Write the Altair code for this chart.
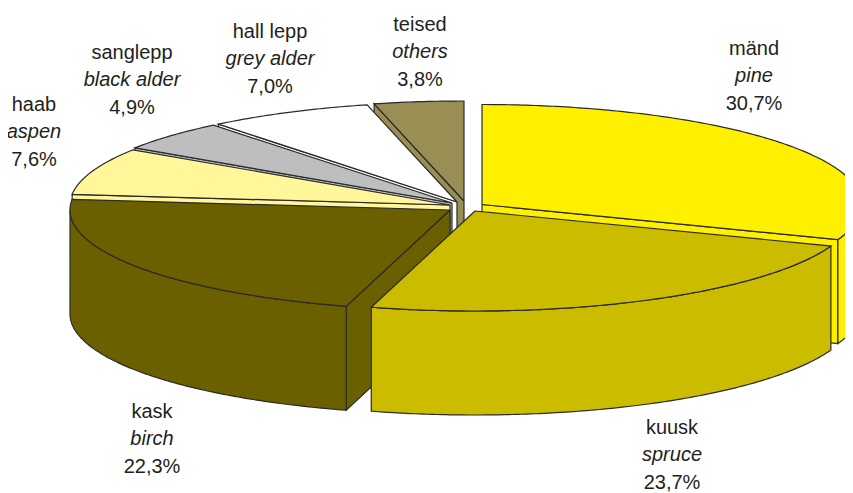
import math
import altair as alt
import pandas as pd

# ---- chart values
names_et = ["mänd", "kuusk", "kask", "haab", "sanglepp", "hall lepp", "teised"]
names_en = ["pine", "spruce", "birch", "aspen", "black alder", "grey alder", "others"]
shares = [30.7, 23.7, 22.3, 7.6, 4.9, 7.0, 3.8]
share_text = ["30,7%", "23,7%", "22,3%", "7,6%", "4,9%", "7,0%", "3,8%"]

# ---- styles and layout
colors = ["#FFF000", "#CCBC00", "#6B6000", "#FFF799", "#BCBEC0", "#FFFFFF", "#998F55"]
apex_x = [482, 475, 450, 450, 452, 457, 464]
apex_y = [204.5, 211, 210, 205, 203, 202, 201]
label_x = [754, 672, 152, 34, 132, 270, 420]
label_y = [49, 428, 412, 105, 53, 32, 25]
draw_order = [6, 5, 4, 3, 0, 2, 1]
RX, RY, DEPTH = 380, 100, 104
LINE_GAP = 27.3
INK = "#2b2a29"
X_DOM = [8, 845]
Y_DOM = [493, 8]

total = sum(shares)
angles = [0.0]
for s in shares:
    angles.append(angles[-1] + s / total * 360)


def rim(i, deg, drop=0.0):
    r = math.radians(deg)
    return (apex_x[i] + RX * math.sin(r), apex_y[i] - RY * math.cos(r) + drop)


def arc(i, a, b, drop=0.0):
    n = max(2, int(abs(b - a) * 1.5))
    return [rim(i, a + (b - a) * k / n, drop) for k in range(n + 1)]


def polygon(points, fill):
    pts = list(points) + [points[0]]
    df = pd.DataFrame({"x": [p[0] for p in pts], "y": [p[1] for p in pts], "o": range(len(pts))})
    return (
        alt.Chart(df)
        .mark_line(fill=fill, stroke=INK, strokeWidth=1.2, clip=True, strokeJoin="miter", interpolate="linear")
        .encode(
            x=alt.X("x:Q", scale=alt.Scale(domain=X_DOM), axis=None),
            y=alt.Y("y:Q", scale=alt.Scale(domain=Y_DOM), axis=None),
            order=alt.Order("o:Q"),
        )
    )


layers = []
for i in draw_order:
    a, b = angles[i], angles[i + 1]
    c = colors[i]
    apex = (apex_x[i], apex_y[i])
    low_apex = (apex_x[i], apex_y[i] + DEPTH)
    # cut walls facing the viewer
    if math.cos(math.radians(a - 90)) < -1e-6:
        layers.append(polygon([apex, rim(i, a), rim(i, a, DEPTH), low_apex], c))
    if math.cos(math.radians(b + 90)) < -1e-6:
        layers.append(polygon([apex, rim(i, b), rim(i, b, DEPTH), low_apex], c))
    # outer wall
    lo, hi = max(a, 90), min(b, 270)
    if lo < hi:
        layers.append(polygon(arc(i, lo, hi) + arc(i, hi, lo, DEPTH), c))
    # top face
    layers.append(polygon([apex] + arc(i, a, b), c))

rows = []
for i in range(len(shares)):
    rows.append({"x": label_x[i], "y": label_y[i], "t": names_et[i], "s": "normal"})
    rows.append({"x": label_x[i], "y": label_y[i] + LINE_GAP, "t": names_en[i], "s": "italic"})
    rows.append({"x": label_x[i], "y": label_y[i] + 2 * LINE_GAP, "t": share_text[i], "s": "normal"})
labels = pd.DataFrame(rows)


def text_layer(style):
    return (
        alt.Chart(labels[labels.s == style])
        .mark_text(font="Liberation Sans", fontSize=20, fontStyle=style, color="#231f20",
                   align="center", baseline="middle")
        .encode(
            x=alt.X("x:Q", scale=alt.Scale(domain=X_DOM), axis=None),
            y=alt.Y("y:Q", scale=alt.Scale(domain=Y_DOM), axis=None),
            text="t:N",
        )
    )


chart = (
    alt.layer(*layers, text_layer("normal"), text_layer("italic"))
    .properties(width=837, height=485, padding=0, autosize=alt.AutoSizeParams(type="none"), background="white")
    .configure_view(stroke=None)
)
chart.save("out.html", embed_options={"renderer": "svg", "actions": False})
